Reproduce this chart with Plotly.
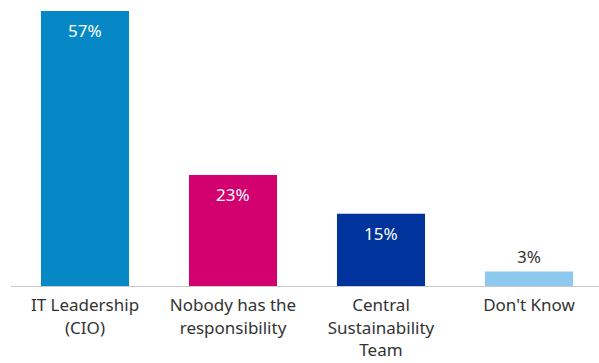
import plotly.graph_objects as go

# Survey: who owns sustainability in IT
categories = ["IT Leadership<br>(CIO)", "Nobody has the<br>responsibility",
              "Central<br>Sustainability<br>Team", "Don't Know"]
values = [57, 23, 15, 3]
labels = ["57%", "23%", "15%", "3%"]
colors = ["#0788c6", "#d3006f", "#00339b", "#8dc8ee"]

x_idx = list(range(len(categories)))

fig = go.Figure(go.Bar(
    x=x_idx,
    y=values,
    marker=dict(color=colors, line=dict(width=0)),
    width=0.595,
    hoverinfo="skip",
))

# value labels: inside near the top for tall bars, above the short one
for i, (v, t) in enumerate(zip(values, labels)):
    inside = v >= 10
    fig.add_annotation(
        x=i, y=v, text=t, showarrow=False,
        xanchor="center",
        yanchor="top" if inside else "bottom",
        yshift=-6 if inside else 2,
        font=dict(size=17, color="#ffffff" if inside else "#333333",
                  family="Noto Sans"),
    )

fig.update_layout(
    width=599, height=363,
    margin=dict(l=11, r=0, t=0, b=77),
    paper_bgcolor="#ffffff",
    plot_bgcolor="#ffffff",
    showlegend=False,
    font=dict(family="Noto Sans", size=17, color="#333333"),
    xaxis=dict(
        range=[-0.5, 3.473],
        tickmode="array", tickvals=x_idx, ticktext=categories,
        showgrid=False, zeroline=False,
        showline=True, linecolor="#c8c8c8", linewidth=1,
        ticks="", tickfont=dict(size=17, color="#333333"),
        ticklabelstandoff=4,
        fixedrange=True,
    ),
    yaxis=dict(
        range=[0, 59.3], visible=False, showgrid=False, zeroline=False,
        fixedrange=True,
    ),
)

fig.write_html("out.html")
